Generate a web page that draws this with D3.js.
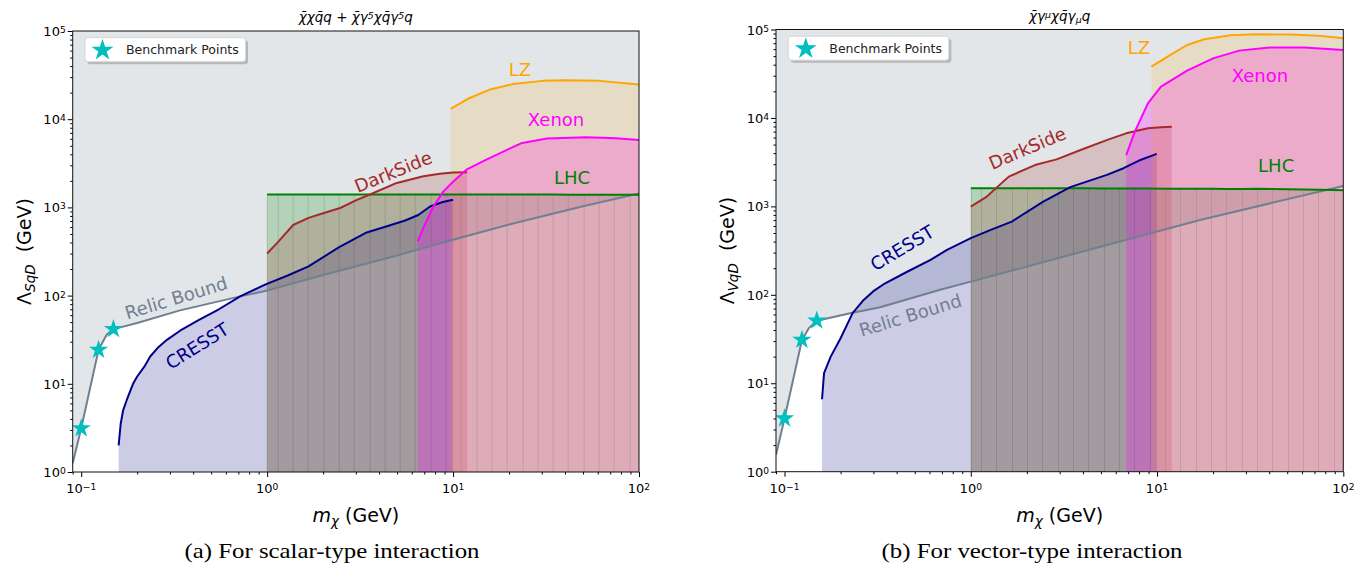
<!DOCTYPE html>
<html>
<head>
<meta charset="utf-8">
<script src="https://cdn.jsdelivr.net/npm/d3@7"></script>
<style>
  body { margin: 0; background: #fff; }
  svg { display: block; font-family: "DejaVu Sans", sans-serif; }
</style>
</head>
<body>
<svg id="chart" width="1364" height="565"></svg>
<script>
(function () {
  'use strict';

  // ---- data (mass in GeV, Lambda in GeV) ----

  // LHC limits are sampled at the same masses in both panels
  const lhcMass = [1.0, 1.136, 1.373, 1.66, 2.006, 2.424, 2.93, 3.541, 4.28, 5.173, 6.253, 7.557,
    9.135, 11.04, 13.35, 16.13, 19.5, 23.56, 28.48, 34.42, 41.6, 50.28, 60.78, 73.45, 88.78, 100];
  const benchMass = [0.1, 0.124, 0.149];

  // (a) scalar-type
  const scalarRelicMass = [0.09, 0.1, 0.124, 0.137, 0.149, 0.2, 0.34, 0.716, 1, 2, 5, 10, 20, 50, 100];
  const scalarRelic = [1.26, 3.13, 24.3, 36, 41.7, 48.9, 68, 98, 114, 171, 285, 430, 640, 1030, 1442];
  const scalarBench = [3.13, 24.3, 41.7];
  const scalarCresstMass = [0.159, 0.163, 0.168, 0.176, 0.19, 0.2, 0.22, 0.235, 0.26, 0.289, 0.34, 0.43,
    0.55, 0.716, 0.975, 1.3, 1.67, 2.44, 3.43, 4.5, 5.52, 6.5, 7.52, 8.8, 10];
  const scalarCresst = [2.0, 3.5, 5, 6.6, 10, 12.1, 16, 20.4, 26, 31.5, 40, 53,
    70, 98, 133, 170, 214, 355, 520, 620, 711, 820, 1025, 1150, 1223];
  const scalarDarkMass = [1.0, 1.13, 1.38, 1.67, 2.0, 2.47, 3.0, 3.73, 4.98, 6.92, 8.51, 10, 11.9];
  const scalarDark = [300, 394, 632, 760, 860, 985, 1200, 1456, 1893, 2250, 2414, 2480, 2500];
  const scalarXenonMass = [6.46, 7.0, 7.84, 8.87, 10, 11.8, 15.1, 20, 23.2, 32, 52, 75, 100];
  const scalarXenon = [411, 620, 1025, 1520, 1950, 2680, 3480, 4600, 5330, 6040, 6230, 6100, 5820];
  const scalarLzMass = [9.7, 12.2, 16, 20.9, 30.3, 39.6, 61, 100];
  const scalarLz = [13100, 17300, 21900, 25000, 27200, 27600, 27200, 24700];
  const scalarLhc = [1400, 1400, 1400, 1400, 1400, 1400, 1400, 1400, 1400, 1400, 1400, 1400,
    1400, 1400, 1400, 1400, 1400, 1400, 1400, 1400, 1395, 1395, 1395, 1390, 1390, 1390];

  // (b) vector-type
  const vectorRelicMass = [0.09, 0.1, 0.124, 0.135, 0.149, 0.225, 0.326, 0.685, 1, 3.56, 17, 100];
  const vectorRelic = [1.55, 4.0, 30.9, 42, 51, 62, 72.4, 114, 141, 290, 703, 1700];
  const vectorBench = [4.0, 30.9, 51];
  const vectorCresstMass = [0.159, 0.163, 0.177, 0.2, 0.232, 0.266, 0.3, 0.347, 0.45, 0.608, 0.745,
    1.0, 1.3, 1.66, 2.45, 3.42, 5.38, 6.61, 8.0, 9.97];
  const vectorCresst = [6.6, 13, 20, 32.3, 62, 87.6, 110, 135, 180, 248, 322,
    437, 550, 673, 1133, 1649, 2270, 2700, 3300, 3930];
  const vectorDarkMass = [1.0, 1.22, 1.6, 2.21, 2.89, 3.98, 5.5, 6.83, 8.93, 10.5, 12];
  const vectorDark = [993, 1290, 2170, 2930, 3400, 4420, 5730, 6700, 7630, 7850, 7950];
  const vectorXenonMass = [6.83, 7.6, 8.93, 10.5, 14.5, 20, 27.6, 40.2, 61.8, 100];
  const vectorXenon = [3800, 7000, 14600, 22600, 34300, 47200, 57700, 62400, 62400, 58600];
  const vectorLzMass = [9.32, 11.4, 14.5, 17.96, 24.8, 34.2, 52.6, 76.7, 100];
  const vectorLz = [38000, 49300, 66800, 77500, 85900, 88300, 87600, 84400, 79400];
  const vectorLhc = [1600, 1605, 1605, 1605, 1600, 1600, 1600, 1600, 1600, 1595, 1595, 1590,
    1590, 1585, 1585, 1585, 1580, 1575, 1575, 1580, 1570, 1560, 1550, 1540, 1530, 1520];

  const pts = (ms, vs) => ms.map((m, i) => [m, vs[i]]);

  const svg = d3.select('#chart');

  const panels = [
    {
      key: 'a', left: 72.7, top: 31, width: 566.3, height: 441,
      title: [['χ̄χq̄q + χ̄γ'], ['5', 'sup'], ['χq̄γ'], ['5', 'sup'], ['q']],
      ysub: 'SqD',
      caption: '(a) For scalar-type interaction', captionX: 332, captionW: 295,
      relic: pts(scalarRelicMass, scalarRelic),
      bench: pts(benchMass, scalarBench),
      cresst: pts(scalarCresstMass, scalarCresst),
      dark: pts(scalarDarkMass, scalarDark),
      xenon: pts(scalarXenonMass, scalarXenon),
      lz: pts(scalarLzMass, scalarLz),
      lhc: pts(lhcMass, scalarLhc),
      labels: [
        { t: 'LZ', m: 22.9, v: 36600, r: 0, c: 'orange' },
        { t: 'Xenon', m: 35.8, v: 9900, r: 0, c: 'magenta' },
        { t: 'DarkSide', m: 4.76, v: 2540, r: -22, c: 'brown' },
        { t: 'LHC', m: 43.6, v: 2170, r: 0, c: 'green' },
        { t: 'CRESST', m: 0.42, v: 26.9, r: -32, c: 'darkblue' },
        { t: 'Relic Bound', m: 0.324, v: 94.4, r: -17, c: 'slategray' }
      ]
    },
    {
      key: 'b', left: 776, top: 29.5, width: 567.3, height: 442.2,
      title: [['χ̄γ'], ['μ', 'sup'], ['χq̄γ'], ['μ', 'sub'], ['q']],
      ysub: 'VqD',
      caption: '(b) For vector-type interaction', captionX: 1032, captionW: 301,
      relic: pts(vectorRelicMass, vectorRelic),
      bench: pts(benchMass, vectorBench),
      cresst: pts(vectorCresstMass, vectorCresst),
      dark: pts(vectorDarkMass, vectorDark),
      xenon: pts(vectorXenonMass, vectorXenon),
      lz: pts(vectorLzMass, vectorLz),
      lhc: pts(lhcMass, vectorLhc),
      labels: [
        { t: 'LZ', m: 8.0, v: 62100, r: 0, c: 'orange' },
        { t: 'Xenon', m: 35.7, v: 29900, r: 0, c: 'magenta' },
        { t: 'DarkSide', m: 2.01, v: 4570, r: -23, c: 'brown' },
        { t: 'LHC', m: 43.6, v: 2870, r: 0, c: 'green' },
        { t: 'CRESST', m: 0.428, v: 339, r: -31, c: 'darkblue' },
        { t: 'Relic Bound', m: 0.473, v: 58.9, r: -17, c: 'slategray' }
      ]
    }
  ];

  function supText(sel, parts, size) {
    parts.forEach(([s, kind]) => {
      const ts = sel.append('tspan').text(s);
      if (kind === 'sup') ts.attr('font-size', size * 0.7).attr('baseline-shift', '38%');
      if (kind === 'sub') ts.attr('font-size', size * 0.7).attr('baseline-shift', '-22%');
    });
  }

  function drawPanel(p) {
    const g = svg.append('g').attr('transform', `translate(${p.left},${p.top})`);
    const x = d3.scaleLog().domain([0.09, 100]).range([0, p.width]);
    const y = d3.scaleLog().domain([1, 1e5]).range([p.height, 0]);

    const clipId = 'clip-' + p.key;
    g.append('clipPath').attr('id', clipId)
      .append('rect').attr('width', p.width).attr('height', p.height);
    const plot = g.append('g').attr('clip-path', `url(#${clipId})`);

    const line = d3.line().x(d => x(d[0])).y(d => y(d[1]));
    const areaDown = d3.area().x(d => x(d[0])).y0(y(1)).y1(d => y(d[1]));
    const areaUp = d3.area().x(d => x(d[0])).y0(y(1e5)).y1(d => y(d[1]));

    // shaded regions (LHC sits underneath the direct-detection ones)
    plot.append('path').attr('d', areaUp(p.relic)).attr('fill', 'slategray').attr('fill-opacity', 0.2);
    plot.append('path').attr('d', areaDown(p.lhc)).attr('fill', 'green').attr('fill-opacity', 0.2);
    // the LHC band is filled piecewise, its edges leave faint vertical lines
    plot.append('g').selectAll('line').data(p.lhc).enter().append('line')
      .attr('x1', d => Math.round(x(d[0])) + 0.5).attr('x2', d => Math.round(x(d[0])) + 0.5)
      .attr('y1', d => y(d[1])).attr('y2', y(1))
      .attr('stroke', '#2f5f2f').attr('stroke-opacity', 0.2).attr('stroke-width', 1);
    plot.append('path').attr('d', areaDown(p.cresst)).attr('fill', 'navy').attr('fill-opacity', 0.2);
    plot.append('path').attr('d', areaDown(p.dark)).attr('fill', 'brown').attr('fill-opacity', 0.2);
    plot.append('path').attr('d', areaDown(p.xenon)).attr('fill', 'magenta').attr('fill-opacity', 0.25);
    plot.append('path').attr('d', areaDown(p.lz)).attr('fill', 'orange').attr('fill-opacity', 0.15);

    // limit curves
    const curves = [
      [p.relic, 'slategray'], [p.lhc, 'green'], [p.cresst, 'darkblue'], [p.dark, 'brown'],
      [p.xenon, 'magenta'], [p.lz, 'orange']
    ];
    curves.forEach(([d, c]) => {
      plot.append('path').attr('d', line(d)).attr('fill', 'none')
        .attr('stroke', c).attr('stroke-width', 2).attr('stroke-linejoin', 'round');
    });

    // benchmark points
    const star = d3.symbol().type(d3.symbolStar).size(115);
    plot.append('g').selectAll('path').data(p.bench).enter().append('path')
      .attr('transform', d => `translate(${x(d[0])},${y(d[1])})`)
      .attr('d', star).attr('fill', '#00bfbf');

    // curve labels
    g.append('g').selectAll('text').data(p.labels).enter().append('text')
      .attr('transform', d => `translate(${x(d.m)},${y(d.v)}) rotate(${d.r})`)
      .attr('text-anchor', 'middle').attr('dominant-baseline', 'central')
      .attr('font-size', 18).attr('fill', d => d.c).text(d => d.t);

    // axes
    const xMajor = [0.1, 1, 10, 100];
    const yMajor = [1, 10, 100, 1e3, 1e4, 1e5];
    const xMinor = x.ticks().filter(v => !xMajor.some(t => Math.abs(t - v) / t < 1e-6));
    const yMinor = y.ticks().filter(v => !yMajor.some(t => Math.abs(t - v) / t < 1e-6));

    const xa = g.append('g').attr('transform', `translate(0,${p.height})`);
    xa.append('g').call(d3.axisBottom(x).tickValues(xMajor).tickSize(5).tickFormat(''));
    xa.append('g').call(d3.axisBottom(x).tickValues(xMinor).tickSize(2.5).tickFormat(''));
    const ya = g.append('g');
    ya.append('g').call(d3.axisLeft(y).tickValues(yMajor).tickSize(5).tickFormat(''));
    ya.append('g').call(d3.axisLeft(y).tickValues(yMinor).tickSize(2.5).tickFormat(''));
    g.selectAll('.domain').remove();

    xa.selectAll('text.lbl').data(xMajor).enter().append('text').attr('class', 'lbl')
      .attr('x', d => x(d)).attr('y', 21).attr('text-anchor', 'middle').attr('font-size', 13)
      .each(function (d) { supText(d3.select(this), [['10'], [String(Math.round(Math.log10(d))).replace('-', '−'), 'sup']], 13); });
    ya.selectAll('text.lbl').data(yMajor).enter().append('text').attr('class', 'lbl')
      .attr('x', -7).attr('y', d => y(d) + 5).attr('text-anchor', 'end').attr('font-size', 13)
      .each(function (d) { supText(d3.select(this), [['10'], [String(Math.round(Math.log10(d))), 'sup']], 13); });

    // frame
    g.append('rect').attr('width', p.width).attr('height', p.height)
      .attr('fill', 'none').attr('stroke', '#111').attr('stroke-width', 1);

    // legend
    const lg = g.append('g').attr('transform', 'translate(12.3,6.7)');
    lg.append('rect').attr('x', 2.5).attr('y', 2.5).attr('width', 160.5).attr('height', 24)
      .attr('rx', 3).attr('fill', '#888').attr('fill-opacity', 0.5);
    lg.append('rect').attr('width', 160.5).attr('height', 24).attr('rx', 3)
      .attr('fill', '#fff').attr('stroke', '#d6d6d6');
    lg.append('path').attr('transform', 'translate(17.5,12.5)')
      .attr('d', d3.symbol().type(d3.symbolStar).size(150)()).attr('fill', '#00bfbf');
    lg.append('text').attr('x', 41).attr('y', 16.5).attr('font-size', 12.5).attr('fill', '#222')
      .text('Benchmark Points');

    // title
    const tt = g.append('text').attr('x', p.width / 2).attr('y', -9).attr('text-anchor', 'middle')
      .attr('font-size', 13.5).attr('font-style', 'italic');
    supText(tt, p.title, 13.5);

    // axis labels
    const xl = g.append('text').attr('x', p.width / 2).attr('y', p.height + 50)
      .attr('text-anchor', 'middle').attr('font-size', 19);
    xl.append('tspan').attr('font-style', 'italic').text('m');
    xl.append('tspan').attr('font-style', 'italic').attr('font-size', 13.5).attr('baseline-shift', '-25%').text('χ');
    xl.append('tspan').text(' (GeV)');

    const yl = g.append('text').attr('transform', `translate(-42,${p.height / 2}) rotate(-90)`)
      .attr('text-anchor', 'middle').attr('font-size', 19);
    yl.append('tspan').text('Λ');
    yl.append('tspan').attr('font-style', 'italic').attr('font-size', 13.5).attr('baseline-shift', '-25%').text(p.ysub);
    yl.append('tspan').text('\u00a0\u00a0(GeV)');

    // caption
    svg.append('text').attr('x', p.captionX).attr('y', 558).attr('text-anchor', 'middle')
      .attr('font-family', '"Liberation Serif", serif').attr('font-size', 21)
      .attr('textLength', p.captionW).attr('lengthAdjust', 'spacingAndGlyphs')
      .text(p.caption);
  }

  panels.forEach(drawPanel);
}());
</script>
</body>
</html>
